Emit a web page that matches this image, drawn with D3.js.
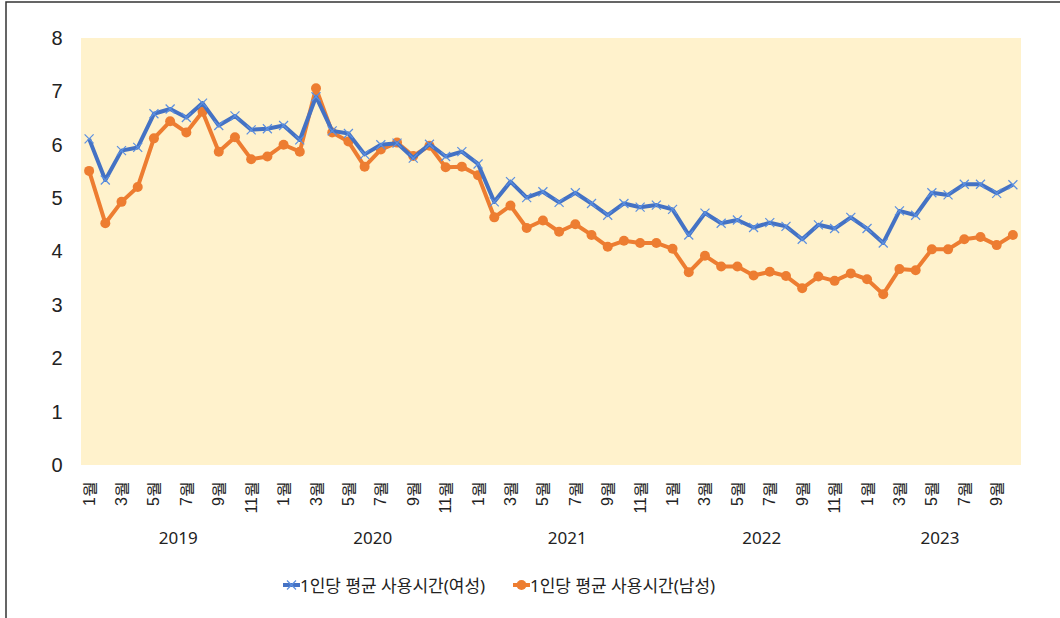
<!DOCTYPE html>
<html>
<head>
<meta charset="utf-8">
<script src="https://cdn.jsdelivr.net/npm/d3@7"></script>
<style>
  body { margin: 0; background: #fff; }
  svg { display: block; font-family: "Noto Sans", "Noto Sans CJK KR", sans-serif; }
</style>
</head>
<body>
<svg id="chart" width="1060" height="618"></svg>
<script>
// chart data
var years = [2019, 2020, 2021, 2022, 2023]
var monthsPerYear = [12, 12, 12, 12, 10]
var yTicks = [0, 1, 2, 3, 4, 5, 6, 7, 8]
var seriesNames = ["1인당 평균 사용시간(여성)", "1인당 평균 사용시간(남성)"]
var female = [6.11, 5.34, 5.89, 5.95, 6.58, 6.67, 6.51, 6.78, 6.36, 6.54, 6.28, 6.30,
  6.36, 6.09, 6.90, 6.26, 6.21, 5.82, 6.00, 6.03, 5.75, 6.01, 5.78, 5.87,
  5.64, 4.93, 5.31, 5.01, 5.12, 4.92, 5.10, 4.90, 4.68, 4.90, 4.83, 4.87,
  4.79, 4.31, 4.72, 4.53, 4.59, 4.45, 4.54, 4.47, 4.23, 4.50, 4.43, 4.64,
  4.43, 4.16, 4.76, 4.68, 5.10, 5.06, 5.26, 5.26, 5.09, 5.25]
var male = [5.51, 4.53, 4.93, 5.21, 6.12, 6.44, 6.23, 6.62, 5.87, 6.14, 5.73, 5.78,
  6.00, 5.87, 7.06, 6.23, 6.06, 5.59, 5.91, 6.04, 5.79, 5.98, 5.58, 5.59,
  5.43, 4.64, 4.86, 4.44, 4.58, 4.37, 4.51, 4.31, 4.09, 4.20, 4.16, 4.16,
  4.05, 3.61, 3.92, 3.72, 3.72, 3.55, 3.62, 3.54, 3.31, 3.53, 3.45, 3.59,
  3.48, 3.20, 3.67, 3.65, 4.04, 4.04, 4.23, 4.27, 4.12, 4.31]

// build the list of year/month points
var points = []
years.forEach(function(y, i) {
  for (var m = 1; m <= monthsPerYear[i]; m++) points.push({ year: y, month: m, key: y + "-" + m })
})

var svg = d3.select("#chart")
var blue = "#4472C4", orange = "#ED7D31"

// outer frame
svg.append("rect")
  .attr("x", 6).attr("y", 2)
  .attr("width", 1070).attr("height", 640)
  .style("fill", "none").style("stroke", "#333").style("stroke-width", 1.5)

var plot = { left: 81, right: 1021, top: 38, bottom: 465 }

var x = d3.scaleBand()
  .domain(points.map(function(d) { return d.key }))
  .range([plot.left, plot.right])
  .padding(0)

var y = d3.scaleLinear()
  .domain([0, 8])
  .range([plot.bottom, plot.top])

// plot area background
svg.append("rect")
  .attr("x", plot.left).attr("y", plot.top)
  .attr("width", plot.right - plot.left).attr("height", plot.bottom - plot.top)
  .style("fill", "#FFF2CC")

// y axis (labels only)
var yAxis = svg.append("g")
  .attr("transform", "translate(" + plot.left + ",0)")
  .call(d3.axisLeft(y).tickValues(yTicks).tickSize(0).tickPadding(18).tickFormat(d3.format("d")))
yAxis.select(".domain").remove()
yAxis.selectAll("text")
  .style("font-size", "20px").style("fill", "#222")
  .attr("text-anchor", "middle").attr("dx", "-6px")

// x axis: odd months, rotated
var xAxis = svg.append("g")
  .attr("transform", "translate(0," + plot.bottom + ")")
  .call(d3.axisBottom(x)
    .tickValues(points.filter(function(d) { return d.month % 2 == 1 }).map(function(d) { return d.key }))
    .tickSize(0)
    .tickFormat(function(k) { return k.split("-")[1] + "월" }))
xAxis.select(".domain").remove()
xAxis.selectAll("text")
  .attr("y", 0).attr("dy", null)
  .attr("transform", "translate(0,16) rotate(-90)")
  .attr("text-anchor", "end")
  .attr("dominant-baseline", "central")
  .style("font-size", "16px").style("fill", "#222")

// year labels centred under their months
years.forEach(function(yr) {
  var pts = points.filter(function(d) { return d.year == yr })
  var x0 = x(pts[0].key), x1 = x(pts[pts.length - 1].key) + x.bandwidth()
  svg.append("text")
    .attr("x", (x0 + x1) / 2).attr("y", 537)
    .attr("text-anchor", "middle").attr("dominant-baseline", "central")
    .style("font-size", "17px").style("fill", "#222")
    .text(yr)
})

var cx = function(d, i) { return x(points[i].key) + x.bandwidth() / 2 }
var line = d3.line().x(cx).y(function(d) { return y(d) })

// male line first, female drawn over it
svg.append("path").datum(male)
  .attr("d", line)
  .style("fill", "none").style("stroke", orange).style("stroke-width", 4).style("stroke-linejoin", "round")
svg.selectAll(".dotM").data(male).enter().append("circle")
  .attr("cx", cx).attr("cy", function(d) { return y(d) })
  .attr("r", 5).style("fill", orange)

svg.append("path").datum(female)
  .attr("d", line)
  .style("fill", "none").style("stroke", blue).style("stroke-width", 4).style("stroke-linejoin", "round")

function crossPath(px, py, s) {
  return "M" + (px - s) + "," + (py - s) + "L" + (px + s) + "," + (py + s) +
    "M" + (px - s) + "," + (py + s) + "L" + (px + s) + "," + (py - s)
}
svg.selectAll(".dotF").data(female).enter().append("path")
  .attr("d", function(d, i) { return crossPath(cx(d, i), y(d), 4.5) })
  .style("stroke", "#5B8FE0").style("stroke-width", 1.2).style("fill", "none")

// legend
var legend = [
  { name: seriesNames[0], color: blue, x: 283, marker: "cross" },
  { name: seriesNames[1], color: orange, x: 513, marker: "circle" }
]
legend.forEach(function(l) {
  var g = svg.append("g").attr("transform", "translate(" + l.x + ",585)")
  g.append("line").attr("x1", 0).attr("x2", 17).attr("y1", 0).attr("y2", 0)
    .style("stroke", l.color).style("stroke-width", 4)
  if (l.marker == "circle") {
    g.append("circle").attr("cx", 8.5).attr("cy", 0).attr("r", 5).style("fill", l.color)
  } else {
    g.append("path").attr("d", crossPath(8.5, 0, 4.5)).style("stroke", "#5B8FE0").style("stroke-width", 1.2)
  }
  g.append("text").attr("x", 17).attr("y", 0)
    .attr("dominant-baseline", "central")
    .style("font-size", "17px").style("fill", "#222")
    .text(l.name)
})
</script>
</body>
</html>
